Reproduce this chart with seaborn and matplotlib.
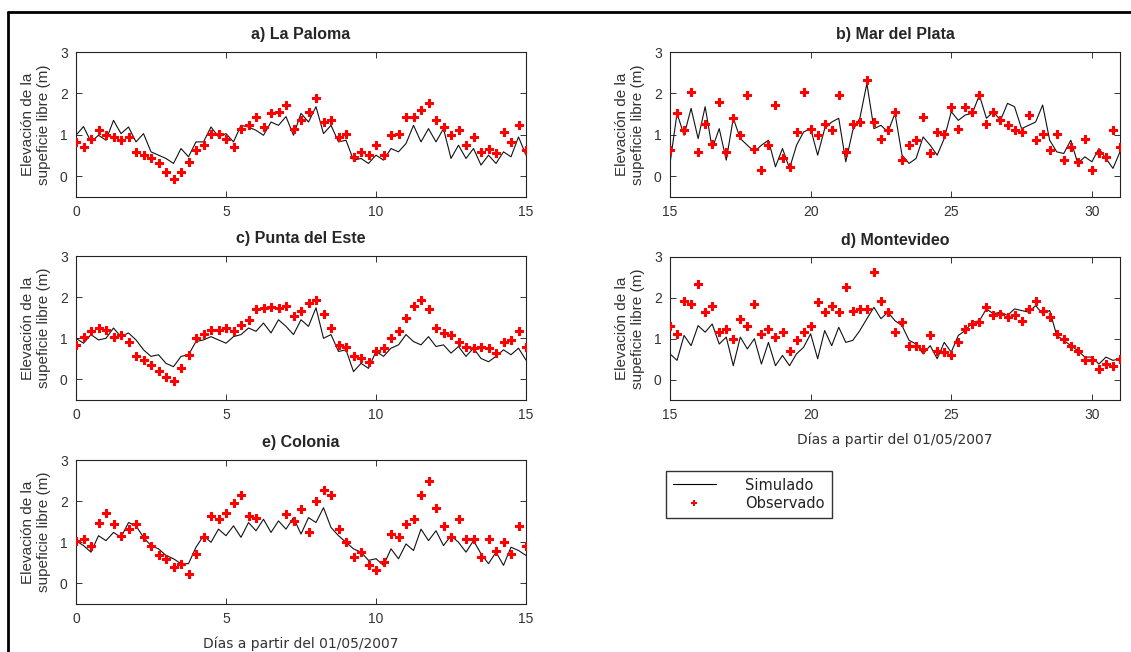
import numpy as np
import pandas as pd
import matplotlib
matplotlib.use('Agg')
import matplotlib.pyplot as plt
from matplotlib.lines import Line2D
import seaborn as sns

# Data (6-hour steps) ==========================================================
nan = np.nan
dias_1 = np.arange(0, 15.01, 0.25)     # first half of May
dias_2 = np.arange(15, 31.01, 0.25)    # second half of May

sim_paloma = [0.99, 1.20, 0.83, 0.99, 0.87, 1.35, 1.03, 1.19, 0.83, 1.03,
              0.59, 0.51, 0.43, 0.31, 0.67, 0.47, 0.83, 0.83, 1.19, 0.95,
              1.03, 0.83, 1.23, 1.19, 1.11, 0.99, 1.31, 1.23, 1.44, 0.99,
              1.52, 1.31, 1.68, 1.03, 1.23, 0.83, 0.87, 0.39, 0.43, 0.31,
              0.51, 0.39, 0.67, 0.59, 0.79, 1.23, 0.83, 1.15, 0.83, 1.15,
              0.43, 0.75, 0.43, 0.67, 0.27, 0.51, 0.31, 0.59, 0.47, 0.95,
              0.51]
obs_paloma = [0.83, 0.70, 0.91, 1.11, 0.99, 0.95, 0.87, 0.95, 0.59, 0.51,
              0.43, 0.31, 0.10, -0.06, 0.10, 0.35, 0.63, 0.75, 1.03, 1.03,
              0.91, 0.71, 1.15, 1.23, 1.44, 1.19, 1.52, 1.56, 1.72, 1.15,
              1.35, 1.56, 1.88, 1.31, 1.35, 0.95, 1.03, 0.47, 0.59, 0.51,
              0.75, 0.51, 0.99, 1.03, 1.44, 1.44, 1.60, 1.76, 1.35, 1.19,
              0.99, 1.11, 0.75, 0.95, 0.59, 0.67, 0.55, 1.07, 0.83, 1.23,
              0.63]

sim_mdp = [0.31, 1.52, 0.99, 1.64, 0.91, 1.68, 0.67, 1.15, 0.39, 1.40,
           0.91, 0.75, 0.59, 0.75, 0.87, 0.23, 0.67, 0.19, 0.75, 1.07,
           1.15, 0.51, 1.15, 1.31, 1.40, 0.35, 1.11, 1.40, 2.24, 1.15,
           1.23, 1.07, 1.52, 0.51, 0.31, 0.43, 0.95, 0.75, 0.51, 0.91,
           1.56, 1.35, 1.48, 1.52, 1.96, 1.40, 1.56, 1.35, 1.76, 1.68,
           1.15, 1.23, 1.31, 1.72, 0.87, 0.59, 0.55, 0.87, 0.31, 0.47,
           0.35, 0.67, 0.43, 0.19, 0.59]
obs_mdp = [0.63, 1.52, 1.11, 2.04, 0.59, 1.27, 0.79, 1.80, 0.59, 1.40,
           0.99, 1.96, 0.67, 0.15, 0.75, 1.72, 0.43, 0.23, 1.07, 2.04,
           1.15, 0.99, 1.27, 1.11, 1.96, 0.59, 1.27, 1.31, 2.32, 1.31,
           0.91, 1.11, 1.56, 0.39, 0.75, 0.87, 1.44, 0.55, 1.07, 1.03,
           1.68, 1.15, 1.68, 1.56, 1.96, 1.27, 1.56, 1.35, 1.23, 1.11,
           1.07, 1.48, 0.87, 1.03, 0.63, 1.03, 0.39, 0.71, 0.35, 0.91,
           0.15, 0.55, 0.47, 1.11, 0.71]

sim_pde = [1.00, 0.88, 1.09, 0.96, 1.00, 1.25, 1.04, 1.13, 0.96, 0.72,
           0.56, 0.60, 0.39, 0.31, 0.56, 0.60, 0.92, 0.96, 1.04, 0.96,
           0.88, 1.04, 1.09, 1.25, 1.17, 1.37, 1.13, 1.45, 1.29, 1.09,
           1.45, 1.29, 1.74, 1.00, 1.09, 0.68, 0.72, 0.19, 0.39, 0.27,
           0.68, 0.56, 0.76, 0.84, 1.09, 0.92, 0.84, 1.04, 0.80, 0.84,
           0.64, 0.80, 0.56, 0.76, 0.51, 0.43, 0.56, 0.72, 0.60, 0.76,
           0.47]
obs_pde = [0.84, 1.04, 1.17, 1.25, 1.21, 1.04, 1.07, 0.92, 0.56, 0.47,
           0.35, 0.20, 0.07, -0.04, 0.27, 0.60, 1.00, 1.10, 1.21, 1.21,
           1.25, 1.17, 1.33, 1.45, 1.70, 1.74, 1.76, 1.74, 1.78, 1.53,
           1.66, 1.86, 1.94, 1.58, 1.25, 0.84, 0.80, 0.56, 0.51, 0.43,
           0.68, 0.76, 1.00, 1.17, 1.49, 1.78, 1.94, 1.70, 1.25, 1.13,
           1.09, 0.92, 0.80, 0.76, 0.80, 0.76, 0.64, 0.92, 0.96, 1.17,
           0.80]

sim_mvd = [0.63, 0.47, 1.08, 0.83, 1.32, 1.16, 1.36, 0.87, 1.04, 0.34,
           1.04, 0.75, 1.00, 0.38, 0.91, 0.34, 0.59, 0.34, 0.63, 0.79,
           1.12, 0.51, 1.20, 0.83, 1.28, 0.91, 0.96, 1.20, 1.49, 1.77,
           1.49, 1.65, 1.44, 1.32, 0.96, 0.87, 0.63, 0.83, 0.51, 0.91,
           0.67, 1.08, 1.20, 1.40, 1.44, 1.73, 1.61, 1.65, 1.57, 1.73,
           1.69, 1.65, 1.81, 1.61, 1.69, 1.08, 0.96, 0.83, 0.71, 0.55,
           0.55, 0.38, 0.55, 0.47, 0.51]
obs_mvd = [1.32, 1.12, 1.93, 1.85, 2.34, 1.65, 1.81, 1.16, 1.24, 1.00,
           1.49, 1.32, 1.85, 1.12, 1.24, 1.04, 1.16, 0.71, 0.96, 1.16,
           1.32, 1.89, 1.65, 1.81, 1.65, 2.26, 1.69, 1.73, 1.73, 2.63,
           1.93, 1.65, 1.16, 1.40, 0.83, 0.83, 0.75, 1.08, 0.71, 0.67,
           0.59, 0.91, 1.24, 1.36, 1.40, 1.77, 1.57, 1.61, 1.53, 1.57,
           1.44, 1.73, 1.93, 1.69, 1.53, 1.12, 1.00, 0.83, 0.71, 0.47,
           0.47, 0.26, 0.38, 0.34, 0.51]

sim_colonia = [1.04, 0.92, 0.76, 1.16, 1.04, 1.24, 1.12, 1.48, 1.40, 1.12,
               0.92, 0.84, 0.68, 0.60, 0.48, 0.48, 0.88, 1.16, 1.00, 1.32,
               1.16, 1.40, 1.12, 1.48, 1.28, 1.56, 1.24, 1.52, 1.32, 1.60,
               1.20, 1.60, 1.48, 1.84, 1.36, 1.16, 1.00, 0.84, 0.76, 0.56,
               0.60, 0.44, 0.84, 0.60, 0.96, 0.80, 1.32, 1.04, 1.28, 0.92,
               1.16, 1.00, 0.76, 1.04, 0.72, 0.48, 0.76, 0.44, 0.88, 0.80,
               0.68]
obs_colonia = [1.04, 1.08, 0.92, 1.48, 1.72, 1.44, 1.16, 1.32, 1.44, 1.12,
               0.92, 0.68, 0.60, 0.40, 0.48, 0.24, 0.72, 1.12, 1.64, 1.56,
               1.72, 1.96, 2.16, 1.64, 1.60, nan, nan, nan, 1.68, 1.52,
               1.80, 1.24, 2.00, 2.28, 2.16, 1.32, 1.00, 0.64, 0.76, 0.44,
               0.32, 0.52, 1.20, 1.12, 1.44, 1.56, 2.16, 2.50, 1.84, 1.40,
               1.12, 1.56, 1.08, 1.08, 0.64, 1.08, 0.80, 1.00, 0.72, 1.40,
               0.92]

titles = ['a) La Paloma', 'b) Mar del Plata', 'c) Punta del Este',
          'd) Montevideo', 'e) Colonia']
ylabel = 'Elevación de la\nsupeficie libre (m)'
xlabel = 'Días a partir del 01/05/2007'

# Style ========================================================================
sns.set_style('ticks')
plt.rcParams['font.family'] = ['Liberation Sans', 'DejaVu Sans']
plt.rcParams['xtick.direction'] = 'in'
plt.rcParams['ytick.direction'] = 'in'
plt.rcParams['xtick.top'] = True
plt.rcParams['ytick.right'] = True
plt.rcParams['xtick.color'] = '#333333'
plt.rcParams['ytick.color'] = '#333333'

W, H = 1131, 652
fig = plt.figure(figsize=(W / 100, H / 100), dpi=100)


def box(left, top, right, bottom):
    return [left / W, 1 - bottom / H, (right - left) / W, (bottom - top) / H]


panels = [
    (titles[0], dias_1, sim_paloma, obs_paloma, box(76, 52, 526, 197), False),
    (titles[1], dias_2, sim_mdp, obs_mdp, box(670, 52, 1120, 197), False),
    (titles[2], dias_1, sim_pde, obs_pde, box(76, 256, 526, 400), False),
    (titles[3], dias_2, sim_mvd, obs_mvd, box(670, 257, 1120, 400), True),
    (titles[4], dias_1, sim_colonia, obs_colonia, box(76, 460, 526, 604), True),
]

# Plotting =====================================================================
for title, dias, sim, obs, pos, show_xlabel in panels:
    ax = fig.add_axes(pos)
    df = pd.DataFrame({'dia': dias, 'sim': sim, 'obs': obs})
    sns.lineplot(data=df, x='dia', y='sim', ax=ax, color='#111111', lw=0.8)
    sns.scatterplot(data=df, x='dia', y='obs', ax=ax, color='red',
                    marker='P', s=38, edgecolor='red', linewidth=0.8,
                    zorder=3)
    ax.set_ylim(-0.5, 3)
    ax.set_yticks([0, 1, 2, 3])
    if dias[0] == 0:
        ax.set_xlim(0, 15)
        ax.set_xticks([0, 5, 10, 15])
    else:
        ax.set_xlim(15, 31)
        ax.set_xticks([15, 20, 25, 30])
    ax.tick_params(labelsize=10, length=4, width=0.7, pad=6)
    for sp in ax.spines.values():
        sp.set_color('#222222')
        sp.set_linewidth(0.8)
    ax.set_title(title, fontsize=11.5, fontweight='bold', pad=9)
    ax.set_ylabel(ylabel, fontsize=11, color='#333333', labelpad=6)
    if show_xlabel:
        ax.set_xlabel(xlabel, fontsize=10, color='#333333',
                      family='DejaVu Sans', labelpad=7)
    else:
        ax.set_xlabel('')

# Legend =======================================================================
handles = [Line2D([], [], color='black', lw=0.8),
           Line2D([], [], color='red', marker='P', ls='none', ms=4, mew=0)]
leg = fig.legend(handles, ['Simulado', 'Observado'], loc='upper left',
                 bbox_to_anchor=(666 / W, 1 - 471 / H), borderaxespad=0,
                 frameon=True, fancybox=False, edgecolor='black',
                 handlelength=3.0, prop={'family': 'DejaVu Sans', 'size': 10.5},
                 borderpad=0.45, labelspacing=0.25, handletextpad=2.0)
leg.get_frame().set_linewidth(1.0)
for t in leg.get_texts():
    t.set_color('#222222')

# Outer frame ==================================================================
fig.add_artist(Line2D([8 / W, 1], [1 - 12 / H, 1 - 12 / H], color='black',
                      lw=2, transform=fig.transFigure))
fig.add_artist(Line2D([8 / W, 8 / W], [0, 1 - 12 / H], color='black',
                      lw=2, transform=fig.transFigure))

fig.savefig('out.png', dpi=100)
